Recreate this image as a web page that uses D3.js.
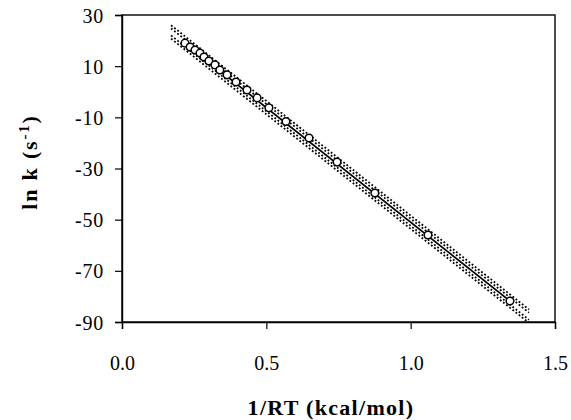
<!DOCTYPE html>
<html><head><meta charset="utf-8">
<script src="https://cdn.jsdelivr.net/npm/d3@7"></script>
<style>body{margin:0;background:#fff}svg{display:block}</style>
</head><body>
<script>
// Data
const invRT = [0.218,0.236,0.253,0.270,0.284,0.301,0.322,0.339,0.364,0.395,0.433,0.468,0.509,0.568,0.648,0.745,0.876,1.060,1.344];
const lnK   = [19.0,17.5,16.3,15.1,13.6,12.0,10.5,8.5,6.6,3.8,0.7,-2.4,-6.3,-11.6,-18.1,-27.5,-39.6,-56.0,-81.8];
const fitSlope = -89.6;
const fitIntercept = 38.6;
const fitRange = [0.218, 1.344];
const bandRange = [0.17, 1.41];
const bandOffsets = [2.6, 1.4, -1.4, -2.6];
const xTicks = [0.0, 0.5, 1.0, 1.5];
const yTicks = [30, 10, -10, -30, -50, -70, -90];

const W = 571, H = 420;
const m = {l:122, r:16, t:15, b:98};
const font = "'Liberation Serif', 'Times New Roman', Times, 'DejaVu Serif', serif";
const svg = d3.select("body").append("svg").attr("width", W).attr("height", H)
  .style("font-family", font);
const x = d3.scaleLinear().domain([0,1.5]).range([m.l, W-m.r]);
const y = d3.scaleLinear().domain([-90,30]).range([H-m.b, m.t]);

svg.append("clipPath").attr("id","c").append("rect")
  .attr("x", x(0)).attr("y", y(30)).attr("width", x(1.5)-x(0)).attr("height", y(-90)-y(30));
const g = svg.append("g").attr("clip-path","url(#c)");

// confidence bands (dotted)
bandOffsets.forEach(o => {
  g.append("line")
    .attr("x1", x(bandRange[0])).attr("y1", y(fitIntercept + fitSlope*bandRange[0] + o))
    .attr("x2", x(bandRange[1])).attr("y2", y(fitIntercept + fitSlope*bandRange[1] + o))
    .attr("stroke","#000").attr("stroke-width",1.8).attr("stroke-dasharray","1.8,2.2");
});
// fit line
g.append("line")
  .attr("x1", x(fitRange[0])).attr("y1", y(fitIntercept + fitSlope*fitRange[0]))
  .attr("x2", x(fitRange[1])).attr("y2", y(fitIntercept + fitSlope*fitRange[1]))
  .attr("stroke","#000").attr("stroke-width",1.7);

// points
g.selectAll("circle").data(invRT.map((v,i)=>[v,lnK[i]])).enter().append("circle")
  .attr("cx", d=>x(d[0])).attr("cy", d=>y(d[1])).attr("r",3.8)
  .attr("fill","#fff").attr("stroke","#000").attr("stroke-width",1.5);

// frame
svg.append("rect").attr("x", x(0)).attr("y", y(30)).attr("width", x(1.5)-x(0)).attr("height", y(-90)-y(30))
  .attr("fill","none").attr("stroke","#000").attr("stroke-width",1.4);

// axes
const xa = svg.append("g").attr("transform",`translate(0,${y(-90)})`)
  .call(d3.axisBottom(x).tickValues(xTicks).tickSize(7).tickPadding(27).tickFormat(d3.format(".1f")));
const ya = svg.append("g").attr("transform",`translate(${x(0)},0)`)
  .call(d3.axisLeft(y).tickValues(yTicks).tickSize(7).tickPadding(11).tickFormat(d=>d<0?"-"+Math.abs(d):d));
[xa,ya].forEach(a=>{
  a.attr("font-family",null).attr("font-size",null);
  a.select(".domain").attr("stroke","#000").attr("stroke-width",1.4);
  a.selectAll(".tick line").attr("stroke","#000").attr("stroke-width",1.2);
  a.selectAll("text").attr("fill","#000").style("font-family",font).style("font-size","20px");
});
ya.selectAll("text").attr("dy","0.35em").style("letter-spacing","0.8px");

// titles
svg.append("text").attr("x", 331).attr("y", 415).attr("text-anchor","middle")
  .style("font-family",font).style("font-size","22px").style("font-weight","bold")
  .style("letter-spacing","1.3px").text("1/RT (kcal/mol)");
const yt = svg.append("text").attr("transform","translate(37,162) rotate(-90)").attr("text-anchor","middle")
  .style("font-family",font).style("font-size","22px").style("font-weight","bold").style("letter-spacing","1.8px");
yt.append("tspan").text("ln k (s");
yt.append("tspan").attr("dy","-8").style("font-size","15px").text("-1");
yt.append("tspan").attr("dy","8").text(")");
</script>
</body></html>
